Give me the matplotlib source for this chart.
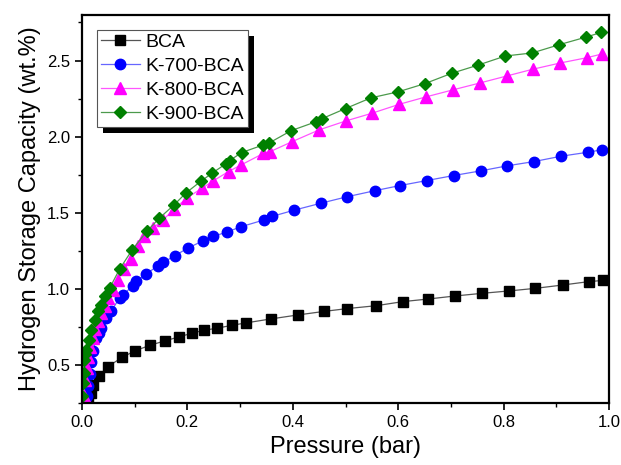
import matplotlib
matplotlib.use("Agg")
import matplotlib.pyplot as plt
from matplotlib.ticker import MultipleLocator
from matplotlib.patches import Rectangle

plt.rcParams['font.family'] = ['Liberation Sans', 'DejaVu Sans']

bca_x = [0.010, 0.012, 0.0165, 0.020, 0.032, 0.049, 0.076, 0.100, 0.129, 0.157, 0.184, 0.208,
         0.232, 0.256, 0.284, 0.311, 0.358, 0.409, 0.460, 0.503, 0.558, 0.609, 0.657, 0.708,
         0.758, 0.810, 0.860, 0.912, 0.961, 0.988]
bca_y = [0.26, 0.285, 0.318, 0.368, 0.427, 0.49, 0.55, 0.593, 0.630, 0.659, 0.685, 0.709,
         0.729, 0.742, 0.761, 0.777, 0.803, 0.829, 0.853, 0.871, 0.890, 0.917, 0.934, 0.954,
         0.971, 0.987, 1.004, 1.026, 1.048, 1.056]

k700_x = [0.006, 0.010, 0.011, 0.0146, 0.018, 0.021, 0.027, 0.032, 0.037, 0.046, 0.056, 0.0715,
          0.078, 0.097, 0.103, 0.122, 0.144, 0.154, 0.176, 0.201, 0.229, 0.249, 0.275, 0.302,
          0.346, 0.360, 0.403, 0.453, 0.502, 0.555, 0.603, 0.654, 0.705, 0.757, 0.807, 0.858,
          0.909, 0.960, 0.987]
k700_y = [0.27, 0.30, 0.36, 0.44, 0.52, 0.59, 0.68, 0.71, 0.744, 0.81, 0.858, 0.941,
          0.963, 1.022, 1.05, 1.098, 1.153, 1.174, 1.218, 1.269, 1.315, 1.345, 1.374, 1.409,
          1.454, 1.476, 1.518, 1.563, 1.605, 1.645, 1.679, 1.712, 1.745, 1.776, 1.809, 1.837,
          1.872, 1.898, 1.915]

k800_x = [0.003, 0.006, 0.009, 0.012, 0.016, 0.020, 0.025, 0.030, 0.036, 0.043, 0.050, 0.058,
          0.068, 0.080, 0.093, 0.106, 0.118, 0.135, 0.154, 0.175, 0.200, 0.227, 0.249, 0.278,
          0.302, 0.344, 0.357, 0.399, 0.450, 0.501, 0.550, 0.602, 0.652, 0.703, 0.755, 0.806,
          0.855, 0.907, 0.958, 0.986]
k800_y = [0.30, 0.40, 0.48, 0.55, 0.62, 0.68, 0.74, 0.79, 0.84, 0.89, 0.94, 0.99,
          1.06, 1.13, 1.20, 1.28, 1.345, 1.40, 1.454, 1.525, 1.60, 1.66, 1.71, 1.771,
          1.815, 1.89, 1.902, 1.968, 2.045, 2.104, 2.154, 2.213, 2.261, 2.307, 2.353, 2.399,
          2.443, 2.484, 2.519, 2.543]

k900_x = [0.001, 0.002, 0.003, 0.004, 0.006, 0.008, 0.0127, 0.018, 0.024, 0.030, 0.037, 0.043,
          0.0525, 0.0715, 0.0955, 0.123, 0.147, 0.175, 0.197, 0.225, 0.247, 0.273, 0.280, 0.303,
          0.344, 0.354, 0.397, 0.443, 0.455, 0.500, 0.548, 0.600, 0.650, 0.701, 0.752, 0.803,
          0.854, 0.905, 0.956, 0.985]
k900_y = [0.30, 0.38, 0.45, 0.536, 0.57, 0.602, 0.668, 0.733, 0.799, 0.853, 0.897, 0.952,
          1.006, 1.131, 1.258, 1.378, 1.466, 1.553, 1.630, 1.706, 1.761, 1.822, 1.843, 1.896,
          1.946, 1.957, 2.040, 2.097, 2.118, 2.185, 2.255, 2.295, 2.348, 2.416, 2.471, 2.530,
          2.550, 2.604, 2.654, 2.685]

labels = ['BCA', 'K-700-BCA', 'K-800-BCA', 'K-900-BCA']

fig = plt.figure(figsize=(6.21, 4.65), dpi=100)
ax = fig.add_axes([0.132, 0.133, 0.849, 0.835])

ax.plot(bca_x, bca_y, color='#555555', lw=0.9, marker='s', ms=6.5,
        mfc='black', mec='black', label=labels[0])
ax.plot(k700_x, k700_y, color='#6666ff', lw=0.9, marker='o', ms=7.5,
        mfc='blue', mec='blue', label=labels[1])
ax.plot(k800_x, k800_y, color='#ff55ff', lw=0.9, marker='^', ms=8,
        mfc='magenta', mec='magenta', label=labels[2])
ax.plot(k900_x, k900_y, color='#4c9a4c', lw=0.9, marker='D', ms=6.5,
        mfc='green', mec='green', label=labels[3])

ax.set_xlim(0, 1.0)
ax.set_ylim(0.25, 2.8)
ax.xaxis.set_major_locator(MultipleLocator(0.2))
ax.xaxis.set_minor_locator(MultipleLocator(0.1))
ax.yaxis.set_major_locator(MultipleLocator(0.5))
ax.yaxis.set_minor_locator(MultipleLocator(0.25))
ax.tick_params(which='major', direction='out', length=5, width=1.2, labelsize=12)
ax.tick_params(which='minor', direction='out', length=3, width=1.0)
ax.tick_params(top=False, right=False, which='both')
for s in ax.spines.values():
    s.set_linewidth(1.6)

ax.set_xlabel('Pressure (bar)', fontsize=17)
ax.set_ylabel('Hydrogen Storage Capacity (wt.%)', fontsize=17)

leg = ax.legend(loc='upper left', bbox_to_anchor=(0.028, 0.962), fontsize=14,
                frameon=True, fancybox=False, edgecolor='#555555',
                handlelength=2.0, handletextpad=0.3, labelspacing=0.32,
                borderpad=0.2, borderaxespad=0.0)
leg.get_frame().set_linewidth(0.8)
leg.get_frame().set_alpha(1.0)

fig.canvas.draw()
bb = leg.get_frame().get_window_extent(fig.canvas.get_renderer())
off = 6
shadow = Rectangle((bb.x0 + off, bb.y0 - off), bb.width, bb.height,
                   transform=None, facecolor='black', edgecolor='none',
                   zorder=4.9, clip_on=False)
ax.add_artist(shadow)

fig.savefig('out.png', dpi=100)
